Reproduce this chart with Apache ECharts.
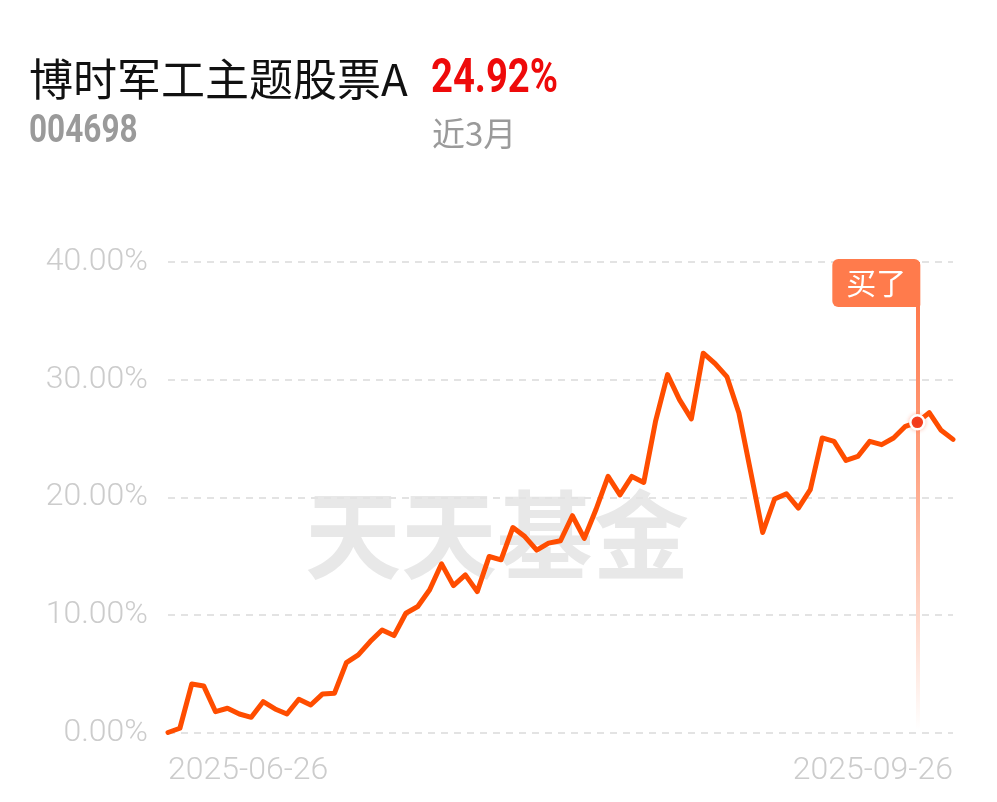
<!DOCTYPE html>
<html>
<head>
<meta charset="utf-8">
<script src="https://cdn.jsdelivr.net/npm/echarts@6/dist/echarts.min.js"></script>
<style>
html,body{margin:0;padding:0;background:#fff;}
#c{width:997px;height:802px;}
</style>
</head>
<body>
<div id="c"></div>
<script>
const fundName = '博时军工主题股票A';
const fundCode = '004698';
const periodReturn = '24.92%';
const periodLabel = '近3月';
const watermark = '天天基金';
const buyLabel = '买了';
const buyDate = '2025-09-23';

const dates = [
  '2025-06-26','2025-06-27','2025-06-30',
  '2025-07-01','2025-07-02','2025-07-03','2025-07-04',
  '2025-07-07','2025-07-08','2025-07-09','2025-07-10','2025-07-11',
  '2025-07-14','2025-07-15','2025-07-16','2025-07-17','2025-07-18',
  '2025-07-21','2025-07-22','2025-07-23','2025-07-24','2025-07-25',
  '2025-07-28','2025-07-29','2025-07-30','2025-07-31',
  '2025-08-01',
  '2025-08-04','2025-08-05','2025-08-06','2025-08-07','2025-08-08',
  '2025-08-11','2025-08-12','2025-08-13','2025-08-14','2025-08-15',
  '2025-08-18','2025-08-19','2025-08-20','2025-08-21','2025-08-22',
  '2025-08-25','2025-08-26','2025-08-27','2025-08-28','2025-08-29',
  '2025-09-01','2025-09-02','2025-09-03','2025-09-04','2025-09-05',
  '2025-09-08','2025-09-09','2025-09-10','2025-09-11','2025-09-12',
  '2025-09-15','2025-09-16','2025-09-17','2025-09-18','2025-09-19',
  '2025-09-22','2025-09-23','2025-09-24','2025-09-25','2025-09-26'
];

const returns = [
  0.00, 0.36, 4.13, 3.96, 1.77, 2.06, 1.57, 1.29, 2.62, 2.00,
  1.57, 2.83, 2.34, 3.28, 3.34, 5.94, 6.60, 7.73, 8.72, 8.24,
  10.14, 10.71, 12.13, 14.34, 12.49, 13.40, 11.98, 14.96, 14.68, 17.43,
  16.66, 15.50, 16.10, 16.30, 18.43, 16.50, 19.00, 21.77, 20.20, 21.77,
  21.26, 26.50, 30.43, 28.30, 26.66, 32.25, 31.36, 30.23, 27.17, 22.10,
  17.00, 19.85, 20.30, 19.08, 20.64, 25.04, 24.75, 23.13, 23.47, 24.75,
  24.47, 25.04, 26.03, 26.37, 27.20, 25.69, 24.92
];

const yTicks = [0, 10, 20, 30, 40];

const buyIndex = dates.indexOf(buyDate);
const lastIndex = dates.length - 1;

const chart = echarts.init(document.getElementById('c'));
chart.setOption({
  animation: false,
  backgroundColor: '#ffffff',
  grid: { left: 168, right: 44, top: 262, bottom: 69.5, containLabel: false },
  graphic: [
    { type: 'text', x: 29, y: 79, z: 10,
      style: { text: fundName, font: '400 44px "Noto Sans CJK SC"', fill: '#111111',
               verticalAlign: 'middle' } },
    { type: 'text', x: 431, y: 80, z: 10, scaleX: 0.78,
      style: { text: periodReturn, font: 'bold 49px Roboto', fill: '#EE0A0A',
               verticalAlign: 'middle' } },
    { type: 'text', x: 29, y: 132, z: 10, scaleX: 0.83,
      style: { text: fundCode, font: 'bold 38px Roboto', fill: '#9a9a9a',
               verticalAlign: 'middle' } },
    { type: 'text', x: 432, y: 133, z: 10,
      style: { text: periodLabel, font: '400 33px "Noto Sans CJK SC"', fill: '#9a9a9a',
               verticalAlign: 'middle' } },
    { type: 'text', x: 497, y: 535, z: -1,
      style: { text: watermark, font: 'bold 96px "Noto Sans CJK SC"', fill: '#e8e8e8',
               align: 'center', verticalAlign: 'middle' } }
  ],
  xAxis: {
    type: 'category',
    data: dates,
    boundaryGap: false,
    axisLine: { show: false },
    axisTick: { show: false },
    splitLine: { show: false },
    axisLabel: {
      interval: (i) => i === 0 || i === lastIndex,
      alignMinLabel: 'left',
      alignMaxLabel: 'right',
      color: '#cccccc',
      fontSize: 32,
      fontFamily: 'Roboto',
      fontWeight: 300,
      margin: 22
    }
  },
  yAxis: {
    type: 'value',
    min: yTicks[0],
    max: yTicks[yTicks.length - 1],
    interval: 10,
    axisLine: { show: false },
    axisTick: { show: false },
    axisLabel: {
      formatter: (v) => v.toFixed(2) + '%',
      color: '#cccccc',
      fontSize: 32,
      fontFamily: 'Roboto',
      fontWeight: 300,
      margin: 20
    },
    splitLine: { lineStyle: { color: '#e3e3e3', width: 2, type: [7, 6] } }
  },
  series: [{
    type: 'line',
    data: returns,
    showSymbol: false,
    symbol: 'none',
    smooth: false,
    z: 3,
    lineStyle: { color: '#FF4D00', width: 5, join: 'round', cap: 'round' },
    markLine: {
      silent: true,
      symbol: 'none',
      z: 1,
      label: { show: false },
      lineStyle: {
        type: 'solid',
        width: 4,
        color: {
          type: 'linear', x: 0, y: 300, x2: 0, y2: 730, global: true,
          colorStops: [
            { offset: 0, color: 'rgba(255,120,75,1)' },
            { offset: 0.35, color: 'rgba(255,125,80,0.75)' },
            { offset: 1, color: 'rgba(255,125,80,0)' }
          ]
        }
      },
      emphasis: { disabled: true },
      data: [{ xAxis: buyDate }]
    },
    markPoint: {
      silent: true,
      z: 5,
      data: [
        {
          coord: [buyDate, yTicks[yTicks.length - 1]],
          symbol: 'rect',
          symbolSize: 1,
          itemStyle: { color: 'rgba(0,0,0,0)' },
          label: {
            show: true,
            position: 'inside',
            offset: [-41, 21],
            formatter: buyLabel,
            color: '#ffffff',
            fontSize: 30,
            lineHeight: 30,
            fontFamily: 'Noto Sans CJK SC',
            backgroundColor: '#FF7B4C',
            borderRadius: [6, 6, 2, 6],
            padding: [9, 14, 9, 14]
          }
        },
        {
          coord: [buyDate, returns[buyIndex]],
          symbol: 'circle',
          symbolSize: 14,
          itemStyle: { color: '#F23A1B', borderColor: '#ffffff', borderWidth: 2.5,
                       shadowColor: 'rgba(255,100,60,0.35)', shadowBlur: 4 },
          label: { show: false }
        }
      ]
    }
  }]
});
</script>
</body>
</html>
